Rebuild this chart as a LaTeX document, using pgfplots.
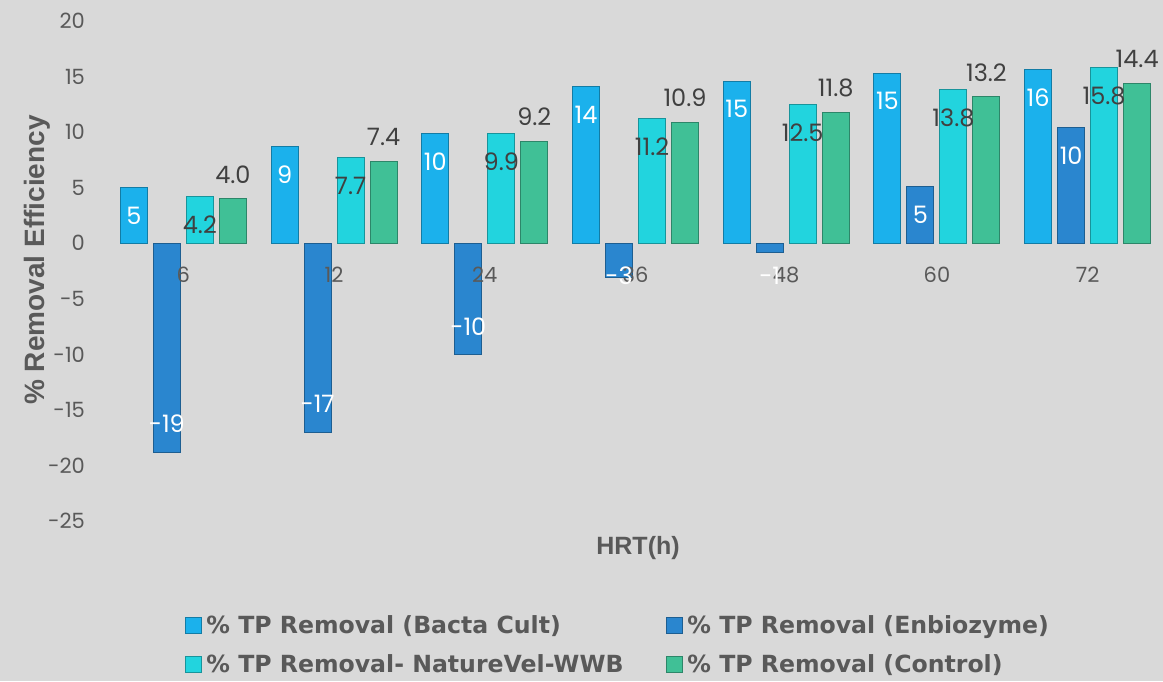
\documentclass[border=0pt]{standalone}
\usepackage{pgfplots}
\usepackage{pgfplotstable}
\pgfplotsset{compat=1.18}
\usepackage{fontspec}
\setmainfont{Poppins}
\newfontfamily\titlefont{Liberation Sans}
\newfontfamily\legfont{DejaVu Sans}
\definecolor{bg}{HTML}{D9D9D9}
\definecolor{txt}{HTML}{595959}
\definecolor{lbl}{HTML}{404040}
\definecolor{cA}{HTML}{1BB1EC}
\definecolor{cB}{HTML}{2A86CF}
\definecolor{cC}{HTML}{22D4DE}
\definecolor{cD}{HTML}{40C096}
\pgfplotstableread{
x bacta enbio nature control
0 5.0 -18.8 4.2 4.0
1 8.7 -17.0 7.7 7.4
2 9.9 -10.0 9.9 9.2
3 14.1 -3.1 11.2 10.9
4 14.6 -0.8 12.5 11.8
5 15.3 5.1 13.8 13.2
6 15.6 10.4 15.8 14.4
}\datatable
\begin{document}
\begin{tikzpicture}
\fill[bg] (0,0) rectangle (581.5pt,340.5pt);
\begin{axis}[
  at={(54pt,80pt)}, anchor=south west,
  scale only axis, width=527.5pt, height=250pt,
  xmin=-0.5, xmax=6.5, ymin=-25, ymax=20,
  ybar=3pt, bar width=13.5pt,
  axis on top,
  axis line style={draw=none}, major tick length=0pt,
  xtick={0,...,6}, xticklabels={6,12,24,36,48,60,72},
  ytick={-25,-20,...,20},
  /pgf/number format/assume math mode=true,
  ticklabel style={font=\fontsize{10.5}{12}\selectfont, text=txt},
  xticklabel style={anchor=center, yshift=123pt},
  yticklabel style={anchor=east, xshift=-8pt},
  clip=false,
  xlabel={HRT(h)}, ylabel={\% Removal Efficiency},
  every axis x label/.style={at={(axis description cs:0.5024,-0.054)}, anchor=center, font=\titlefont\bfseries\fontsize{12.5}{14}\selectfont, text=txt},
  every axis y label/.style={at={(axis description cs:-0.0673,0.522)}, anchor=center, rotate=90, font=\titlefont\bfseries\fontsize{14}{16}\selectfont, text=txt},
  legend columns=2,
  legend image code/.code={\fill[#1] (0pt,-4pt) rectangle (8pt,4pt);},
  legend style={at={(axis description cs:0.0673,-0.172)}, anchor=north west, draw=none, fill=none, font=\legfont\bfseries\fontsize{11.8}{14}\selectfont, text=txt, row sep=5pt},
  legend cell align=left,
]
\addplot[fill=cA, draw=cA!70!black, line width=0.5pt,
  nodes near coords={\pgfmathprintnumber[fixed,precision=0]{\pgfplotspointmeta}},
  every node near coord/.append style={anchor=center, yshift=-14pt, text=white, font=\fontsize{12}{14}\selectfont}]
  table[x=x,y=bacta]{\datatable};
\addlegendentry{\makebox[228pt][l]{\% TP Removal (Bacta Cult)}}
\addplot[fill=cB, draw=cB!70!black, line width=0.5pt,
  visualization depends on={rawy \as \ry},
  nodes near coords={\pgfmathprintnumber[fixed,precision=0]{\pgfplotspointmeta}},
  every node near coord/.append style={anchor=center, yshift={ifthenelse(\ry<-3.5,14,ifthenelse(\ry<0,(-2.95-\ry)*5.556,-14))*1pt}, text=white, font=\fontsize{12}{14}\selectfont}]
  table[x=x,y=enbio]{\datatable};
\addlegendentry{\% TP Removal (Enbiozyme)}
\addplot[fill=cC, draw=cC!70!black, line width=0.5pt,
  nodes near coords={\pgfmathprintnumber[fixed,zerofill,precision=1]{\pgfplotspointmeta}},
  every node near coord/.append style={anchor=center, yshift=-14pt, text=lbl, font=\fontsize{12}{14}\selectfont}]
  table[x=x,y=nature]{\datatable};
\addlegendentry{\makebox[228pt][l]{\% TP Removal- NatureVel-WWB}}
\addplot[fill=cD, draw=cD!70!black, line width=0.5pt,
  nodes near coords={\pgfmathprintnumber[fixed,zerofill,precision=1]{\pgfplotspointmeta}},
  every node near coord/.append style={anchor=center, yshift=12pt, text=lbl, font=\fontsize{12}{14}\selectfont}]
  table[x=x,y=control]{\datatable};
\addlegendentry{\% TP Removal (Control)}
\end{axis}
\pgfresetboundingbox
\path[use as bounding box] (0,0) rectangle (581.5pt,340.5pt);
\end{tikzpicture}
\end{document}
